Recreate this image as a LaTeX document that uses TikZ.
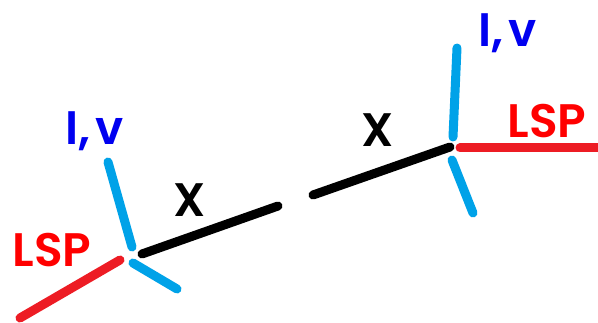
\documentclass[tikz,border=0pt]{standalone}
\usepackage{fontspec}
\setmainfont{Poppins}[BoldFont={Poppins SemiBold}]
\definecolor{lblue}{HTML}{00A2E8}
\definecolor{lred}{HTML}{ED1C24}
\definecolor{tred}{HTML}{FF0000}
\definecolor{tblue}{HTML}{0000F0}
\tikzset{
  seg/.style={line width=9pt, line cap=round},
  lbl/.style={font=\fontsize{47}{47}\selectfont\bfseries, inner sep=0pt, anchor=center},
}
\begin{document}
\begin{tikzpicture}[x=1pt,y=-1pt]
\useasboundingbox (0,0) rectangle (598,323);
% left vertex
\coordinate (lbu1) at (108,162); \coordinate (lbu2) at (132,247);
\coordinate (lbd1) at (133,263); \coordinate (lbd2) at (177,289);
\coordinate (lr1) at (120,260); \coordinate (lr2) at (20,318);
\coordinate (k1) at (142,254); \coordinate (k2) at (278,206);
\coordinate (k3) at (313,195); \coordinate (k4) at (450,147);
% right vertex
\coordinate (rbu1) at (457,48); \coordinate (rbu2) at (453,137);
\coordinate (rbd1) at (452,160); \coordinate (rbd2) at (473,213);
\coordinate (rr1) at (460,148); \coordinate (rr2) at (604,148);
\draw[seg, lblue] (lbu1) -- (lbu2);
\draw[seg, lblue] (lbd1) -- (lbd2);
\draw[seg, lred] (lr1) -- (lr2);
\draw[seg, black] (k1) -- (k2);
\draw[seg, black] (k3) -- (k4);
\draw[seg, lblue] (rbu1) -- (rbu2);
\draw[seg, lblue] (rbd1) -- (rbd2);
\draw[seg, lred] (rr1) -- (rr2);
\node[lbl, tblue] (iv1) at (95,131) {I,\kern5pt v};
\node[lbl, tred] (lsp1) at (52,250) {LSP};
\node[lbl, black] (x1) at (190,200) {X};
\node[lbl, black] (x2) at (378,130) {X};
\node[lbl, tblue] (iv2) at (508,33) {I,\kern5pt v};
\node[lbl, tred] (lsp2) at (547,121) {LSP};
\end{tikzpicture}
\end{document}
